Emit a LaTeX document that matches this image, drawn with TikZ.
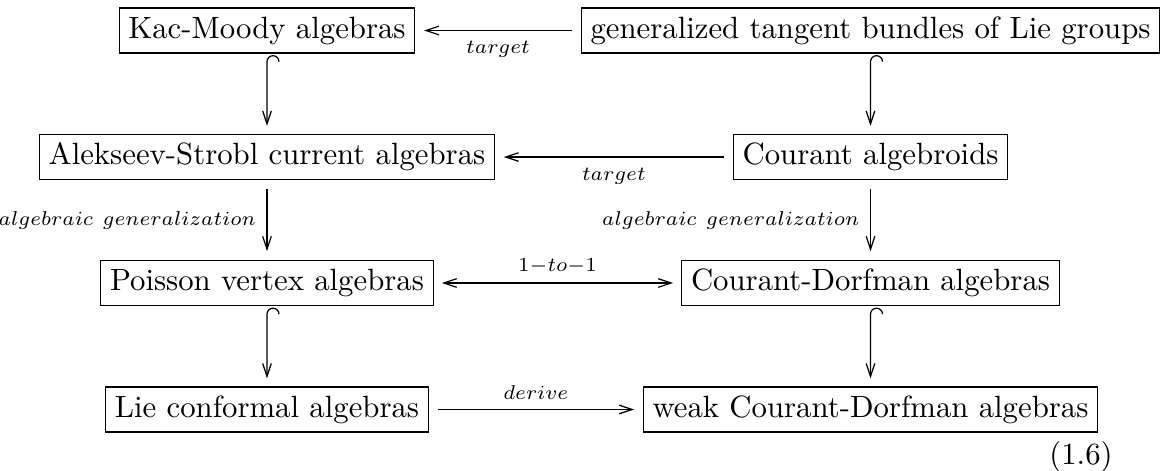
\documentclass[tikz,border=0pt]{standalone}
\usepackage{graphicx}
\usetikzlibrary{arrows.meta}
\newcommand{\lbltext}[1]{\scalebox{0.93}{$\scriptstyle #1$}}
\tikzset{
  px/.style={x=0.325pt,y=-0.325pt},
  box/.style={draw, line width=0.4pt, inner xsep=3pt, inner ysep=2.9pt, text height=6.94pt, text depth=1.94pt},
  tipstyle/.style={-{Straight Barb[length=4.2pt,width=2.8pt]}},
  arr/.style={tipstyle, line width=0.4pt, shorten >=2.8pt, shorten <=2.8pt},
  harr/.style={tipstyle, line width=0.4pt, shorten >=2.6pt},
  biarr/.style={{Straight Barb[length=4.2pt,width=2.8pt]}-{Straight Barb[length=4.2pt,width=2.8pt]}, line width=0.4pt, shorten >=2.6pt, shorten <=2.6pt},
  lbl/.style={inner sep=1pt},
}
\begin{document}
\begin{tikzpicture}[px]
\useasboundingbox (0,0) rectangle (1164,470);
% nodes
\node[box] (kac) at (267,30.5) {Kac-Moody algebras};
\node[box] (gtb) at (870.5,30.5) {generalized tangent bundles of Lie groups};
\node[box] (as)  at (267,157) {Alekseev-Strobl current algebras};
\node[box] (ca)  at (870.5,157) {Courant algebroids};
\node[box] (pva) at (267,283) {Poisson vertex algebras};
\node[box] (cd)  at (870.5,283) {Courant-Dorfman algebras};
\node[box] (lca) at (267,409.5) {Lie conformal algebras};
\node[box] (wcd) at (870.5,409.5) {weak Courant-Dorfman algebras};
\node (eqno) at (1081,457) {(1.6)};
% horizontal arrows
\draw[arr] (gtb) -- node[lbl,below=2.3pt]{\lbltext{target}} (kac);
\draw[arr] (ca) -- node[lbl,below=2.3pt]{\lbltext{target}} (as);
\draw[biarr] (pva) -- node[lbl,above=1.8pt]{\lbltext{1-to-1}} (cd);
\draw[arr] (lca) -- node[lbl,above=2pt]{\lbltext{derive}} (wcd);
% vertical arrows
\draw[harr] ([shift={(12,8)}]kac.south) arc[start angle=0,end angle=180,radius=1.95pt] -- (as.north);
\draw[harr] ([shift={(12,8)}]gtb.south) arc[start angle=0,end angle=180,radius=1.95pt] -- (ca.north);
\draw[harr] ([shift={(12,8)}]pva.south) arc[start angle=0,end angle=180,radius=1.95pt] -- (lca.north);
\draw[harr] ([shift={(12,8)}]cd.south) arc[start angle=0,end angle=180,radius=1.95pt] -- (wcd.north);
\draw[arr] (as) -- node[lbl,left=2.4pt]{\lbltext{algebraic\ generalization}} (pva);
\draw[arr] (ca) -- node[lbl,left=2.4pt]{\lbltext{algebraic\ generalization}} (cd);
\end{tikzpicture}
\end{document}
